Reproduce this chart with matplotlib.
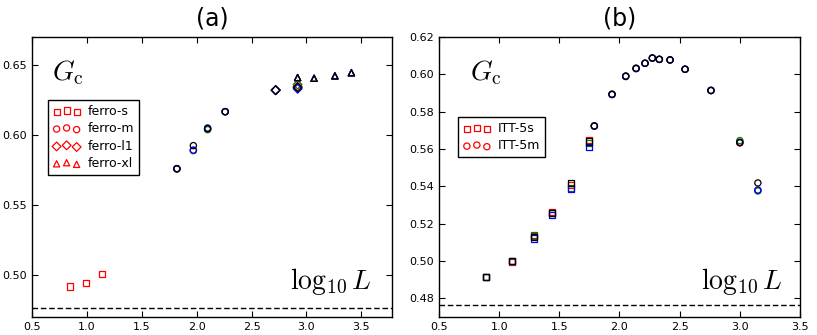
import numpy as np
import matplotlib
matplotlib.use("Agg")
import matplotlib.pyplot as plt

plt.rcParams['mathtext.fontset'] = 'cm'
plt.rcParams['font.size'] = 8

# critical value (dashed line)
g_exact = 0.4764

# panel (a): ferro-* series, one list per colour (red, green, blue, black)
ferro_s_x = [0.845, 0.99, 1.14]
ferro_s_r = [0.4918, 0.4943, 0.5007]

ferro_m_x = [1.82, 1.97, 2.10, 2.26]
ferro_m_r = [0.5758, 0.5889, 0.6040, 0.6166]
ferro_m_g = [0.5757, 0.5889, 0.6038, 0.6166]
ferro_m_b = [0.5760, 0.5892, 0.6050, 0.6167]
ferro_m_k = [0.5759, 0.5924, 0.6045, 0.6166]

ferro_l1_x = [2.72, 2.92]
ferro_l1_r = [0.6320, 0.6345]
ferro_l1_g = [0.6320, 0.6360]
ferro_l1_b = [0.6320, 0.6330]
ferro_l1_k = [0.6320, 0.6340]

ferro_xl_x = [2.92, 3.07, 3.26, 3.41]
ferro_xl_r = [0.6410, 0.6405, 0.6422, 0.6445]
ferro_xl_g = [0.6410, 0.6405, 0.6422, 0.6447]
ferro_xl_b = [0.6410, 0.6405, 0.6422, 0.6445]
ferro_xl_k = [0.6410, 0.6405, 0.6422, 0.6443]

# panel (b): ITT series
itt_5s_x = [0.888, 1.104, 1.292, 1.442, 1.597, 1.744]
itt_5s_r = [0.4915, 0.4995, 0.5135, 0.5262, 0.5405, 0.5650]
itt_5s_g = [0.4913, 0.5000, 0.5140, 0.5255, 0.5390, 0.5630]
itt_5s_b = [0.4913, 0.5002, 0.5120, 0.5248, 0.5385, 0.5610]
itt_5s_k = [0.4913, 0.5000, 0.5130, 0.5255, 0.5418, 0.5640]

itt_5m_x = [1.791, 1.938, 2.052, 2.138, 2.212, 2.273, 2.331, 2.42, 2.545, 2.76, 3.0, 3.15]
itt_5m_r = [0.5723, 0.5893, 0.5990, 0.6032, 0.6059, 0.6087, 0.6080, 0.6077, 0.6027, 0.5913, 0.5632, 0.5378]
itt_5m_g = [0.5723, 0.5893, 0.5990, 0.6032, 0.6059, 0.6087, 0.6080, 0.6077, 0.6027, 0.5915, 0.5645, 0.5375]
itt_5m_b = [0.5723, 0.5891, 0.5988, 0.6030, 0.6059, 0.6087, 0.6080, 0.6077, 0.6027, 0.5913, 0.5635, 0.5380]
itt_5m_k = [0.5723, 0.5893, 0.5990, 0.6032, 0.6059, 0.6087, 0.6080, 0.6077, 0.6027, 0.5913, 0.5635, 0.5418]

colors = ['r', 'g', 'b', 'k']
ms = 20
mlw = 0.9


def draw(ax, x, ys, marker):
    for y, c in zip(ys, colors):
        ax.scatter(x, y, s=ms, marker=marker, facecolors='none', edgecolors=c,
                   linewidths=mlw, zorder=3)


def style(ax):
    ax.tick_params(direction='in', top=True, right=True, length=4, labelsize=8)
    for s in ax.spines.values():
        s.set_linewidth(1)
    ax.axhline(g_exact, color='k', ls=(0, (4, 2)), lw=1)


def add_legend(ax, markers, labels, anchor):
    handles = [ax.scatter([], [], s=ms, marker=m, facecolors='none', edgecolors='r',
                          linewidths=mlw) for m in markers]
    ax.legend(handles, labels, loc='upper left', bbox_to_anchor=anchor, borderaxespad=0,
              scatterpoints=3, scatteryoffsets=[0.375, 0.5, 0.3125], fancybox=False,
              framealpha=1, edgecolor='k', fontsize=9, handletextpad=0.6,
              handlelength=2.2, labelspacing=0.35)


fig = plt.figure(figsize=(8.17, 3.35), dpi=100)
ax1 = fig.add_axes([0.0392, 0.0537, 0.4406, 0.836])
ax2 = fig.add_axes([0.5373, 0.0537, 0.4419, 0.836])

# (a)
ax1.scatter(ferro_s_x, ferro_s_r, s=ms, marker='s', facecolors='none', edgecolors='r',
            linewidths=mlw, zorder=3)
draw(ax1, ferro_m_x, [ferro_m_r, ferro_m_g, ferro_m_b, ferro_m_k], 'o')
draw(ax1, ferro_l1_x, [ferro_l1_r, ferro_l1_g, ferro_l1_b, ferro_l1_k], 'D')
draw(ax1, ferro_xl_x, [ferro_xl_r, ferro_xl_g, ferro_xl_b, ferro_xl_k], '^')
style(ax1)
ax1.set_xlim(0.5, 3.78)
ax1.set_ylim(0.47, 0.67)
ax1.set_yticks([0.50, 0.55, 0.60, 0.65])
ax1.set_title('(a)', fontsize=17, pad=8)
ax1.text(0.055, 0.846, r'$G_{\rm c}$', transform=ax1.transAxes, fontsize=20, va='baseline')
ax1.text(0.944, 0.10, r'$\log_{10}L$', transform=ax1.transAxes, fontsize=20,
         va='baseline', ha='right')
add_legend(ax1, ['s', 'o', 'D', '^'], ['ferro-s', 'ferro-m', 'ferro-l1', 'ferro-xl'],
           (0.044, 0.775))

# (b)
draw(ax2, itt_5s_x, [itt_5s_r, itt_5s_g, itt_5s_b, itt_5s_k], 's')
draw(ax2, itt_5m_x, [itt_5m_r, itt_5m_g, itt_5m_b, itt_5m_k], 'o')
style(ax2)
ax2.set_xlim(0.5, 3.5)
ax2.set_ylim(0.47, 0.62)
ax2.set_yticks(np.arange(0.48, 0.621, 0.02))
ax2.set_title('(b)', fontsize=17, pad=8)
ax2.text(0.086, 0.846, r'$G_{\rm c}$', transform=ax2.transAxes, fontsize=20, va='baseline')
ax2.text(0.953, 0.10, r'$\log_{10}L$', transform=ax2.transAxes, fontsize=20,
         va='baseline', ha='right')
add_legend(ax2, ['s', 'o'], ['ITT-5s', 'ITT-5m'], (0.053, 0.714))

fig.savefig('out.png', dpi=100)
